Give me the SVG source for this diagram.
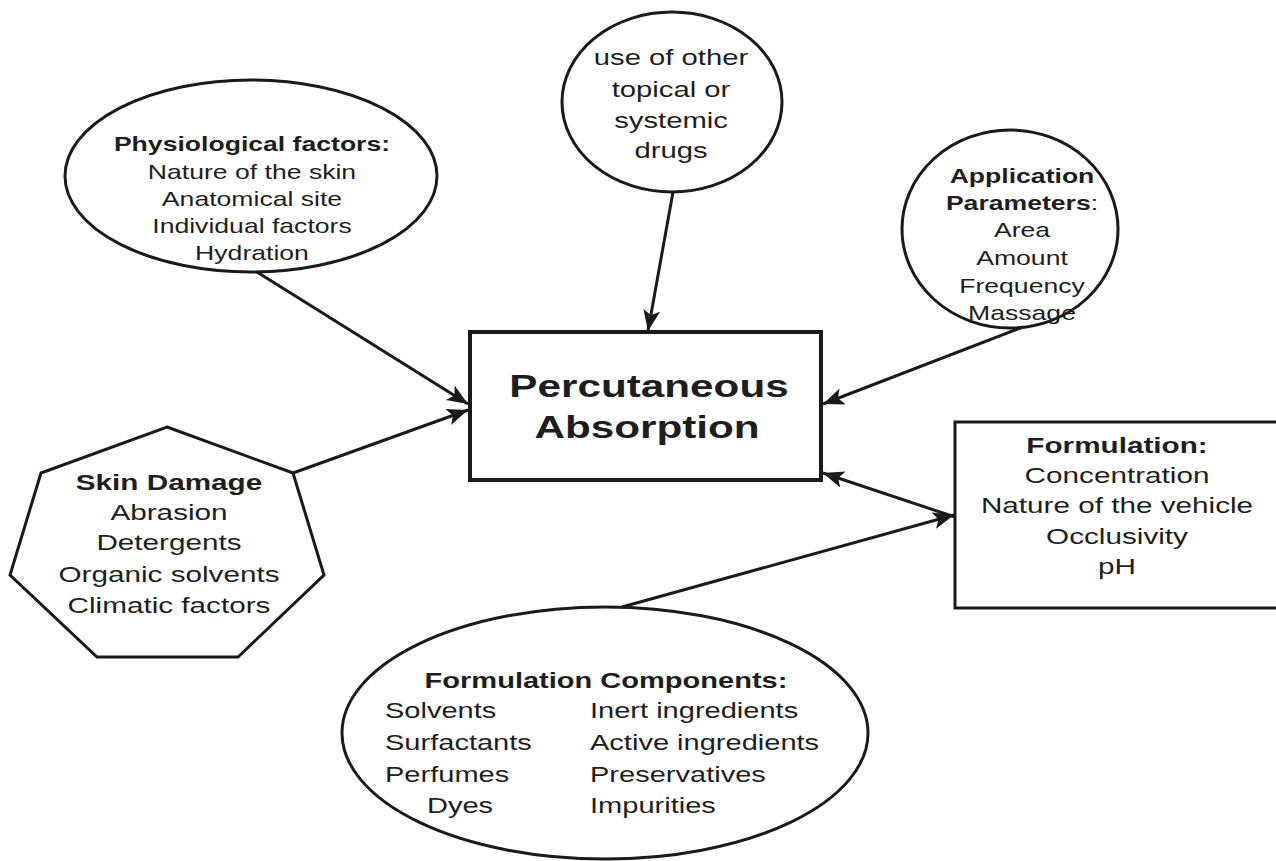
<svg xmlns="http://www.w3.org/2000/svg" width="1276" height="861" viewBox="0 0 1276 861">
<defs>
<style>
.shape{fill:#fff;stroke:#1a1a1a;stroke-width:3}
.t{font-family:"Liberation Sans",Arial,sans-serif;fill:#1e1e1e;text-anchor:middle}
.s{text-anchor:start}
.b{font-weight:bold}
.f20{font-size:20px}
.f22{font-size:22px}
.f225{font-size:22.5px}
.f32{font-size:32px}
.conn line{stroke:#1a1a1a;stroke-width:3;marker-end:url(#arr)}
</style>
<marker id="arr" markerUnits="userSpaceOnUse" markerWidth="24" markerHeight="18" refX="21" refY="8.5" orient="auto">
<path d="M0,0 L21,8.5 L0,17 L5,8.5 Z" fill="#1a1a1a"/>
</marker>
</defs>
<rect width="1276" height="861" fill="#fff"/>

<g id="physiological">
<ellipse class="shape" cx="251" cy="176" rx="186" ry="96"/>
<text class="t b f20" transform="translate(252 151) scale(1.33 1)">Physiological factors:</text>
<text class="t f20" transform="translate(252 179) scale(1.33 1)">Nature of the skin</text>
<text class="t f20" transform="translate(252 206) scale(1.33 1)">Anatomical site</text>
<text class="t f20" transform="translate(252 233) scale(1.33 1)">Individual factors</text>
<text class="t f20" transform="translate(252 260) scale(1.33 1)">Hydration</text>
</g>

<g id="other-drugs">
<ellipse class="shape" cx="672" cy="102" rx="110" ry="90"/>
<text class="t f22" transform="translate(671 65) scale(1.33 1)">use of other</text>
<text class="t f22" transform="translate(671 97) scale(1.33 1)">topical or</text>
<text class="t f22" transform="translate(671 128) scale(1.33 1)">systemic</text>
<text class="t f22" transform="translate(671 158) scale(1.33 1)">drugs</text>
</g>

<g id="application">
<ellipse class="shape" cx="1010" cy="229" rx="108" ry="99"/>
<text class="t b f20" transform="translate(1022 183) scale(1.33 1)">Application</text>
<text class="t f20" transform="translate(1022 210) scale(1.33 1)"><tspan class="b">Parameters</tspan>:</text>
<text class="t f20" transform="translate(1022 237) scale(1.33 1)">Area</text>
<text class="t f20" transform="translate(1022 265) scale(1.33 1)">Amount</text>
<text class="t f20" transform="translate(1022 293) scale(1.33 1)">Frequency</text>
<text class="t f20" transform="translate(1022 320) scale(1.33 1)">Massage</text>
</g>

<g id="percutaneous">
<rect x="470" y="332" width="351" height="148" fill="#fff" stroke="#1a1a1a" stroke-width="4"/>
<text class="t b f32" transform="translate(649 397) scale(1.32 1)">Percutaneous</text>
<text class="t b f32" transform="translate(647 438) scale(1.32 1)">Absorption</text>
</g>

<g id="formulation">
<rect x="955" y="422" width="340" height="186" fill="#fff" stroke="#1a1a1a" stroke-width="3"/>
<text class="t b f225" transform="translate(1117 453) scale(1.32 1)">Formulation:</text>
<text class="t f225" transform="translate(1117 483) scale(1.32 1)">Concentration</text>
<text class="t f225" transform="translate(1117 513) scale(1.32 1)">Nature of the vehicle</text>
<text class="t f225" transform="translate(1117 544) scale(1.32 1)">Occlusivity</text>
<text class="t f225" transform="translate(1117 574) scale(1.32 1)">pH</text>
</g>

<g id="skin-damage">
<polygon class="shape" points="167,427 293,473 324,575 238,657 97,657 10,575 41,473"/>
<text class="t b f225" transform="translate(169 490) scale(1.32 1)">Skin Damage</text>
<text class="t f225" transform="translate(169 520) scale(1.32 1)">Abrasion</text>
<text class="t f225" transform="translate(169 550) scale(1.32 1)">Detergents</text>
<text class="t f225" transform="translate(169 582) scale(1.32 1)">Organic solvents</text>
<text class="t f225" transform="translate(169 613) scale(1.32 1)">Climatic factors</text>
</g>

<g id="components">
<ellipse class="shape" cx="605" cy="733" rx="263" ry="126"/>
<text class="t b f22" transform="translate(606 688) scale(1.32 1)">Formulation Components:</text>
<text class="t s f22" transform="translate(385 718) scale(1.32 1)">Solvents</text>
<text class="t s f22" transform="translate(385 750) scale(1.32 1)">Surfactants</text>
<text class="t s f22" transform="translate(385 782) scale(1.32 1)">Perfumes</text>
<text class="t s f22" transform="translate(427 813) scale(1.32 1)">Dyes</text>
<text class="t s f22" transform="translate(590 718) scale(1.32 1)">Inert ingredients</text>
<text class="t s f22" transform="translate(590 750) scale(1.32 1)">Active ingredients</text>
<text class="t s f22" transform="translate(590 782) scale(1.32 1)">Preservatives</text>
<text class="t s f22" transform="translate(590 813) scale(1.32 1)">Impurities</text>
</g>

<g id="connectors" class="conn">
<line x1="257" y1="272" x2="468" y2="404"/>
<line x1="293" y1="473" x2="468" y2="410"/>
<line x1="673" y1="192" x2="648" y2="331"/>
<line x1="1023" y1="327" x2="823" y2="404"/>
<line x1="955" y1="517" x2="823" y2="473"/>
<line x1="622" y1="607" x2="954" y2="515"/>
</g>
</svg>
